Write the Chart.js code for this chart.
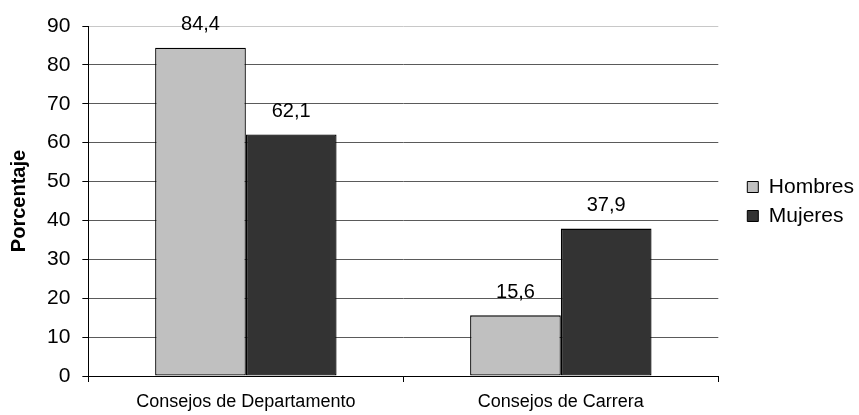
<!DOCTYPE html>
<html>
<head>
<meta charset="utf-8">
<script src="https://cdn.jsdelivr.net/npm/chart.js@4"></script>
<style>
html,body{margin:0;padding:0;background:#fff;}
#wrap{width:859px;height:415px;}
</style>
</head>
<body>
<div id="wrap"><canvas id="c" width="859" height="415"></canvas></div>
<script>
const categories = ["Consejos de Departamento", "Consejos de Carrera"];
const hombres = [84.4, 15.6];
const mujeres = [62.1, 37.9];
const seriesNames = ["Hombres", "Mujeres"];
const yTicks = [0, 10, 20, 30, 40, 50, 60, 70, 80, 90];

const FONT = "'Liberation Sans', Arial, sans-serif";

const labelPlugin = {
  id: 'valueLabels',
  afterLayout(chart) {
    // lift the legend block so it sits around the middle of the plot
    if (chart.legend) { chart.legend.bottom -= 36; }
  },
  afterDatasetsDraw(chart) {
    const ctx = chart.ctx;
    ctx.save();
    ctx.font = "20px " + FONT;
    ctx.fillStyle = "#000";
    ctx.textAlign = "center";
    ctx.textBaseline = "middle";
    chart.data.datasets.forEach((ds, i) => {
      const meta = chart.getDatasetMeta(i);
      meta.data.forEach((el, j) => {
        const txt = ds.data[j].toFixed(1).replace('.', ',');
        ctx.fillText(txt, el.x, el.y - 23);
      });
    });
    ctx.restore();
  }
};

new Chart(document.getElementById('c'), {
  type: 'bar',
  data: {
    labels: categories,
    datasets: [
      { label: seriesNames[0], data: hombres, backgroundColor: '#c0c0c0', borderColor: '#000', borderWidth: 1.3, borderSkipped: false },
      { label: seriesNames[1], data: mujeres, backgroundColor: '#333333', borderColor: '#000', borderWidth: 1.3, borderSkipped: false }
    ]
  },
  options: {
    responsive: false,
    animation: false,
    devicePixelRatio: 1,
    layout: { padding: { top: 26, right: -5, bottom: 2, left: 7 } },
    datasets: { bar: { categoryPercentage: 0.576, barPercentage: 1.0 } },
    plugins: {
      legend: {
        position: 'right',
        align: 'center',
        labels: {
          font: { family: FONT, size: 21 },
          color: '#000',
          boxWidth: 11,
          boxHeight: 11,
          padding: 8,
          generateLabels(chart) {
            return chart.data.datasets.map((ds, i) => ({
              text: ds.label,
              fillStyle: ds.backgroundColor,
              strokeStyle: '#000',
              lineWidth: 1,
              datasetIndex: i,
              hidden: false
            }));
          }
        }
      },
      tooltip: { enabled: false }
    },
    scales: {
      x: {
        offset: true,
        grid: { display: true, drawOnChartArea: false, drawTicks: true, tickLength: 6, color: '#000', offset: true },
        border: { display: true, color: '#000' },
        ticks: { font: { family: FONT, size: 18 }, color: '#000', padding: 9, maxRotation: 0 },
        afterFit(scale) { scale.height = 37; }
      },
      y: {
        min: 0, max: 90,
        afterBuildTicks(axis) { axis.ticks = yTicks.map(v => ({ value: v })); },
        grid: {
          color: (c) => c.tick && c.tick.value === 90 ? '#c8c8c8' : (c.tick && c.tick.value === 0 ? '#000' : '#5a5a5a'),
          tickColor: '#000',
          tickLength: 6,
          drawTicks: true
        },
        border: { display: true, color: '#000' },
        ticks: { font: { family: FONT, size: 21 }, color: '#000', padding: 12 },
        title: { display: true, text: 'Porcentaje', font: { family: FONT, size: 20, weight: 'bold' }, color: '#000', padding: { top: 0, bottom: 4 } }
      },
      spacer: {
        type: 'linear',
        position: 'right',
        display: true,
        grid: { display: false, drawOnChartArea: false },
        border: { display: false },
        ticks: { display: false },
        afterFit(scale) { scale.width = 21; }
      }
    }
  },
  plugins: [labelPlugin]
});
</script>
</body>
</html>
